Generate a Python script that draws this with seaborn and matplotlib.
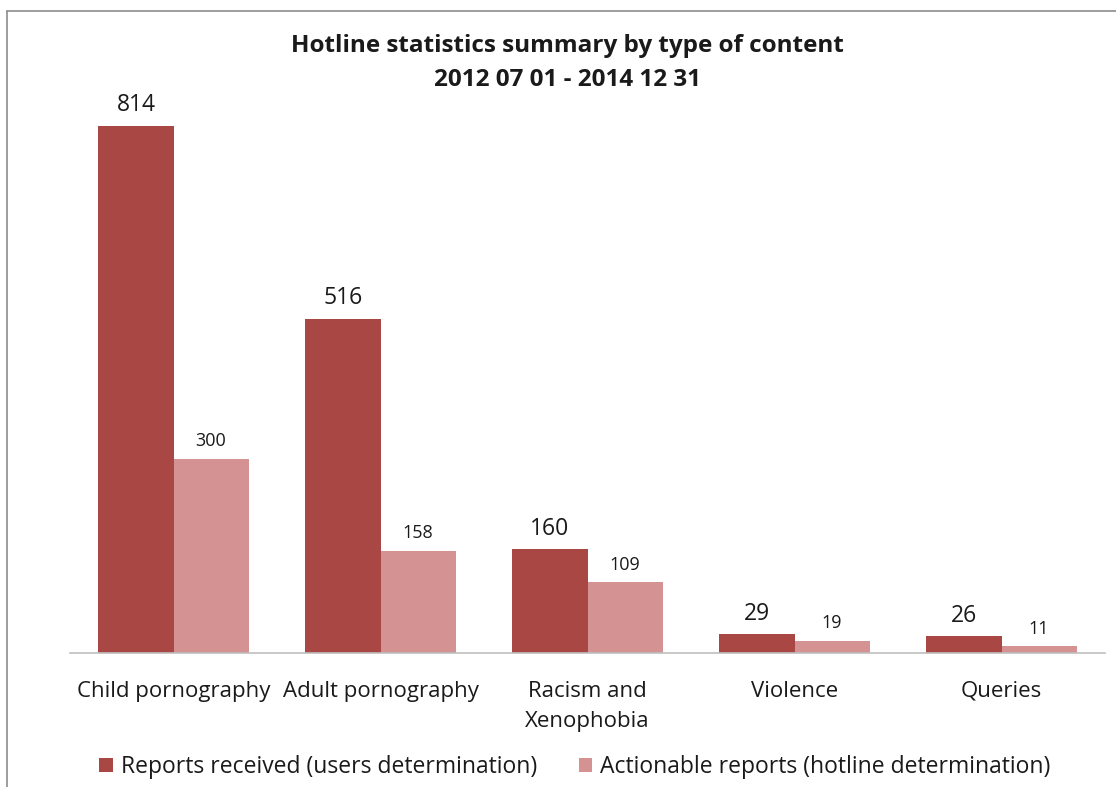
import matplotlib
matplotlib.use("Agg")
import matplotlib.pyplot as plt
import seaborn as sns
import pandas as pd
from matplotlib.lines import Line2D
from matplotlib.patches import Patch

categories = ["Child pornography", "Adult pornography", "Racism and\nXenophobia", "Violence", "Queries"]
series_names = ["Reports received (users determination)", "Actionable reports (hotline determination)"]
reports_received = [814, 516, 160, 29, 26]
actionable_reports = [300, 158, 109, 19, 11]
colors = ["#A94744", "#D49392"]

df = pd.DataFrame({
    "category": categories * 2,
    "series": [series_names[0]] * len(categories) + [series_names[1]] * len(categories),
    "value": reports_received + actionable_reports,
})

sns.set_theme(style="white")
plt.rcParams['font.family'] = ['Open Sans', 'DejaVu Sans']

fig = plt.figure(figsize=(11.16, 7.87), dpi=100)
W, H = 1116, 787
ax = fig.add_axes([70 / W, 1 - 653 / H, (1105 - 70) / W, (653 - 70) / H])

sns.barplot(data=df, x="category", y="value", hue="series", palette=colors,
            width=0.725, saturation=1, ax=ax, legend=False, linewidth=0)

ax.set_ylim(0, 900)
ax.set_xlim(-0.5, len(categories) - 0.5)
ax.set_xlabel("")
ax.set_ylabel("")
ax.set_yticks([])
for s in ["top", "right", "left"]:
    ax.spines[s].set_visible(False)
ax.spines["bottom"].set_color("#BFBFBF")
ax.spines["bottom"].set_linewidth(1.2)
ax.tick_params(axis="x", length=0, pad=20, labelsize=16, labelcolor="#1a1a1a")
for lbl in ax.get_xticklabels():
    lbl.set_linespacing(1.6)
    lbl.set_verticalalignment("top")

for cont, size in zip(ax.containers, [16.5, 13]):
    ax.bar_label(cont, labels=[f"{int(v)}" for v in cont.datavalues], padding=6,
                 fontsize=size, color="#1a1a1a")

fig.text(567 / W, 1 - 46 / H, "Hotline statistics summary by type of content",
         ha="center", va="center", fontsize=17.5, fontweight="bold", color="#1a1a1a")
fig.text(567 / W, 1 - 80 / H, "2012 07 01 - 2014 12 31",
         ha="center", va="center", fontsize=17.5, fontweight="bold", color="#1a1a1a")

handles = [Patch(facecolor=c, edgecolor="none") for c in colors]
fig.legend(handles, series_names, loc="center", bbox_to_anchor=(575 / W, 1 - 767 / H),
           ncol=2, frameon=False, fontsize=16.5, handlelength=0.6, handleheight=0.6,
           handletextpad=0.35, columnspacing=1.8, labelcolor="#1a1a1a")

# chart border (left and top visible; the rest cropped)
fig.add_artist(Line2D([7 / W, 7 / W], [0, 1 - 11 / H], transform=fig.transFigure,
                      color="#8c8c8c", linewidth=1.2))
fig.add_artist(Line2D([7 / W, 1], [1 - 11 / H, 1 - 11 / H], transform=fig.transFigure,
                      color="#8c8c8c", linewidth=1.2))

fig.savefig("out.png", dpi=100)
